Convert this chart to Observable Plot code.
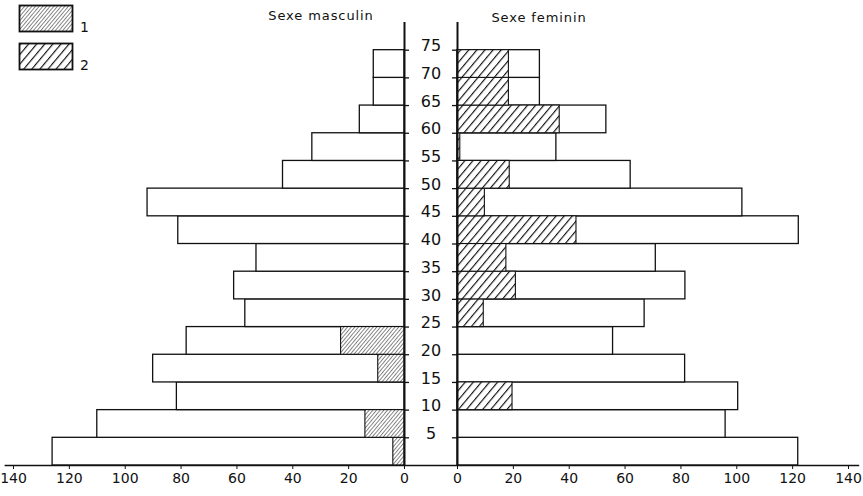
<!DOCTYPE html>
<html>
<head>
<meta charset="utf-8">
<script src="https://cdn.jsdelivr.net/npm/d3@7"></script>
<script src="https://cdn.jsdelivr.net/npm/@observablehq/plot@0.6"></script>
<style>
  html, body { margin: 0; padding: 0; background: #fff; }
  #wrap { position: relative; width: 863px; height: 496px; font-family: "DejaVu Sans", sans-serif; color: #111; }
  .title { position: absolute; font-size: 13px; letter-spacing: 0.9px; transform: translate(-50%, -50%); white-space: nowrap; }
  #legend { position: absolute; left: 0; top: 0; }
</style>
</head>
<body>
<div id="wrap"></div>
<script>
// ---- Data (age groups: lower bound of 5-year class) ----
const ages = [0, 5, 10, 15, 20, 25, 30, 35, 40, 45, 50, 55, 60, 65, 70];
const maleTotal   = [126, 110, 81.5, 90, 78, 57, 61, 53, 81, 92, 43.5, 33, 16, 11, 11];
const maleHatch1  = [4, 14, 0, 9.4, 22.7, 0, 0, 0, 0, 0, 0, 0, 0, 0, 0];
const femaleTotal = [122, 96, 100.5, 81.5, 55.7, 67, 81.6, 71, 122.2, 102, 62, 35.4, 53.3, 29.5, 29.5];
const femaleHatch2 = [0, 0, 19.7, 0, 0, 9.4, 20.9, 17.5, 42.6, 9.8, 18.7, 1, 36.6, 18.4, 18.4];
const ageTicks = [5, 10, 15, 20, 25, 30, 35, 40, 45, 50, 55, 60, 65, 70, 75];
const xTickValues = [0, 20, 40, 60, 80, 100, 120, 140];
const titleMale = "Sexe masculin";
const titleFemale = "Sexe feminin";
const legendLabels = ["1", "2"];

// ---- Build ----
const G = 9.49; // half-gap between the two axes, in value units
const rows = ages.map((a, i) => ({
  age: a, m: maleTotal[i], m1: maleHatch1[i], f: femaleTotal[i], f2: femaleHatch2[i]
}));
const tickData = [
  ...xTickValues.map(v => ({pos: -G - v, label: v})),
  ...xTickValues.map(v => ({pos: G + v, label: v}))
];
const tickLabel = new Map(tickData.map(d => [d.pos, String(d.label)]));
const maxX = 140 + G;

const chart = Plot.plot({
  width: 863,
  height: 496,
  marginLeft: 13,
  marginRight: 15,
  marginTop: 22,
  marginBottom: 31,
  style: {fontFamily: "DejaVu Sans, sans-serif", background: "#fff", color: "#111"},
  x: {domain: [-maxX, maxX], axis: null},
  y: {domain: [0, 80], axis: null},
  marks: [
    // male bars
    Plot.rectX(rows, {x1: d => -G - d.m, x2: -G, y1: "age", y2: d => d.age + 5, fill: "white", stroke: "#111", strokeWidth: 1.3}),
    Plot.rectX(rows.filter(d => d.m1 > 0), {x1: d => -G - d.m1, x2: -G, y1: "age", y2: d => d.age + 5, fill: "url(#hatch1)", stroke: "#111", strokeWidth: 1.1}),
    // female bars
    Plot.rectX(rows, {x1: G, x2: d => G + d.f, y1: "age", y2: d => d.age + 5, fill: "white", stroke: "#111", strokeWidth: 1.3}),
    Plot.rectX(rows.filter(d => d.f2 > 0), {x1: G, x2: d => G + d.f2, y1: "age", y2: d => d.age + 5, fill: "url(#hatch2)", stroke: "#111", strokeWidth: 1.1}),
    // vertical axes
    Plot.ruleX([-G, G], {y1: 0, y2: 80, stroke: "#111", strokeWidth: 2}),
    // small age ticks
    Plot.ruleY(ageTicks, {x1: -G, x2: -G + 1.8, stroke: "#111", strokeWidth: 1.3}),
    Plot.ruleY(ageTicks, {x1: G - 1.8, x2: G, stroke: "#111", strokeWidth: 1.3}),
    // age labels
    Plot.text(ageTicks, {x: 0, y: d => d, dy: -4, text: d => String(d), fontSize: 16, fill: "#111"}),
    // baseline
    Plot.ruleY([0], {x1: -maxX - 3, x2: maxX + 4, stroke: "#111", strokeWidth: 1.6}),
    // x axis
    Plot.axisX(tickData.map(d => d.pos), {
      tickFormat: d => tickLabel.get(d), tickSize: 4, tickPadding: 4, fontSize: 14,
      label: null, anchor: "bottom", stroke: "#111", fill: "#111"
    })
  ]
});

// hatch patterns
const svgSel = d3.select(chart);
const defs = svgSel.insert("defs", ":first-child");
function addPattern(defs, id, spacing, sw, angle) {
  const p = defs.append("pattern")
    .attr("id", id).attr("patternUnits", "userSpaceOnUse")
    .attr("width", spacing).attr("height", spacing)
    .attr("patternTransform", `rotate(${angle})`);
  p.append("rect").attr("width", spacing).attr("height", spacing).attr("fill", "white");
  p.append("line").attr("x1", 0).attr("y1", 0).attr("x2", 0).attr("y2", spacing)
    .attr("stroke", "#111").attr("stroke-width", sw);
}
addPattern(defs, "hatch1", 2.8, 1.0, 40);
addPattern(defs, "hatch2", 6.2, 2.3, 40);

const wrap = document.getElementById("wrap");
wrap.appendChild(chart);

// titles
const t1 = document.createElement("div");
t1.className = "title"; t1.textContent = titleMale;
t1.style.left = "321px"; t1.style.top = "15px";
const t2 = document.createElement("div");
t2.className = "title"; t2.textContent = titleFemale;
t2.style.left = "539px"; t2.style.top = "17px";
wrap.appendChild(t1); wrap.appendChild(t2);

// legend
const lg = d3.select(wrap).append("svg").attr("id", "legend").attr("width", 110).attr("height", 80);
const ldefs = lg.append("defs");
addPattern(ldefs, "lhatch1", 2.8, 1.0, 40);
addPattern(ldefs, "lhatch2", 6.2, 2.3, 40);
const items = legendLabels.map((l, i) => ({label: l, fill: i === 0 ? "url(#lhatch1)" : "url(#lhatch2)", y: 5 + i * 38}));
lg.selectAll("rect.sw").data(items).join("rect").attr("class", "sw")
  .attr("x", 19.5).attr("y", d => d.y + 0.5).attr("width", 53).attr("height", 26)
  .attr("fill", d => d.fill).attr("stroke", "#111").attr("stroke-width", 1.8);
lg.selectAll("text").data(items).join("text")
  .attr("x", 80).attr("y", d => d.y + 27).text(d => d.label)
  .attr("font-size", 14).attr("font-family", "DejaVu Sans, sans-serif").attr("fill", "#111");
</script>
</body>
</html>
